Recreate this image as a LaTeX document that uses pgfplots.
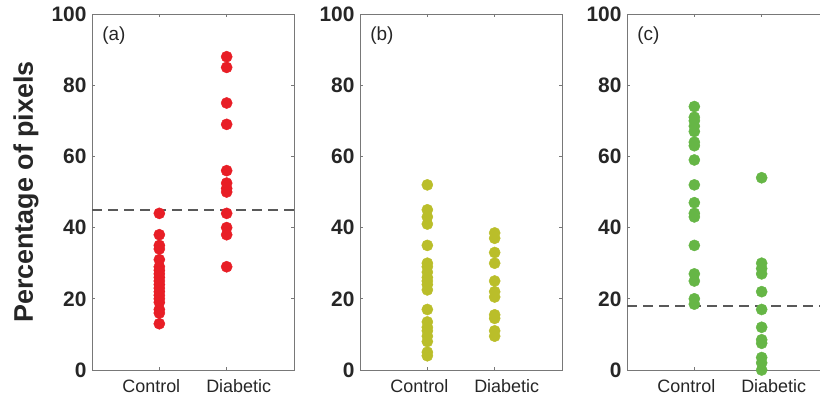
\documentclass[border=0pt]{standalone}
\usepackage{pgfplots}
\pgfplotsset{compat=1.18}
\usepackage{fontspec}
\setmainfont{Liberation Sans}
\definecolor{cred}{RGB}{232,30,38}
\definecolor{colive}{RGB}{186,190,42}
\definecolor{cgreen}{RGB}{102,182,70}
\definecolor{axgray}{RGB}{120,120,120}
\pgfplotsset{
  panel/.style={
    anchor=south west,
    scale only axis,
    width=202bp, height=356bp,
    xmin=0, xmax=3, ymin=0, ymax=100,
    xtick={1,2}, xticklabels={\hspace*{-16bp}Control,\hspace*{24bp}Diabetic},
    ytick={0,20,40,60,80,100},
    tick align=inside,
    major tick length=3bp,
    axis line style={axgray, line width=0.8bp},
    every tick/.style={axgray, line width=0.6bp},
    /pgf/number format/assume math mode=true,
    yticklabel style={font=\fontsize{21}{21}\selectfont\bfseries, text=black!85, xshift=-2bp},
    xticklabel style={font=\fontsize{18}{18}\selectfont, text=black!85, yshift=-6bp},
    clip=false,
  },
  dots/.style={only marks, mark=*, mark size=5.6bp, mark options={draw=#1, fill=#1}},
  dline/.style={black!65, line width=1.6bp, dash pattern=on 10bp off 6bp},
}
\begin{document}
\begin{tikzpicture}
\useasboundingbox (0bp,0bp) rectangle (820bp,398bp);
% (a)
\begin{axis}[panel, at={(92bp,28bp)},
  ylabel={Percentage of pixels},
  ylabel style={at={(axis description cs:-0.327,0.5)}, anchor=center, font=\fontsize{27}{27}\selectfont\bfseries, text=black!85}]
\addplot[dots=cred] coordinates {
(1,44) (1,38) (1,35) (1,34) (1,31) (1,29) (1,28) (1,27) (1,26) (1,25) (1,24) (1,23) (1,22) (1,21) (1,20) (1,19) (1,17) (1,16) (1,13)
};
\addplot[dots=cred] coordinates {
(2,88) (2,85) (2,75) (2,69) (2,56) (2,52.5) (2,51) (2,50) (2,44) (2,40) (2,38) (2,29)
};
\addplot[dline] coordinates {(0,45) (3,45)};
\node[anchor=north west, inner sep=0pt, font=\fontsize{19}{19}\selectfont, text=black!85] at (rel axis cs:0.05,0.965) {(a)};
\end{axis}
% (b)
\begin{axis}[panel, at={(360bp,28bp)}]
\addplot[dots=colive] coordinates {
(1,52) (1,45) (1,43) (1,41) (1,35) (1,30) (1,29) (1,27.5) (1,26) (1,25) (1,24) (1,22.5) (1,17) (1,13.5) (1,12) (1,11) (1,9.5) (1,8) (1,5) (1,4)
};
\addplot[dots=colive] coordinates {
(2,38.5) (2,37) (2,33) (2,30) (2,25) (2,22) (2,20.5) (2,15.5) (2,14.5) (2,11) (2,9.5)
};
\node[anchor=north west, inner sep=0pt, font=\fontsize{19}{19}\selectfont, text=black!85] at (rel axis cs:0.05,0.965) {(b)};
\end{axis}
% (c)
\begin{axis}[panel, at={(627bp,28bp)}]
\addplot[dots=cgreen] coordinates {
(1,74) (1,71) (1,70) (1,68.5) (1,67) (1,64) (1,63) (1,59) (1,52) (1,47) (1,44) (1,43) (1,35) (1,27) (1,25) (1,20) (1,18.5)
};
\addplot[dots=cgreen] coordinates {
(2,54) (2,30) (2,28.5) (2,27) (2,22) (2,17) (2,12) (2,8.5) (2,7.5) (2,3.5) (2,2) (2,0)
};
\addplot[dline] coordinates {(0,18) (3,18)};
\node[anchor=north west, inner sep=0pt, font=\fontsize{19}{19}\selectfont, text=black!85] at (rel axis cs:0.05,0.965) {(c)};
\end{axis}
\end{tikzpicture}
\end{document}
